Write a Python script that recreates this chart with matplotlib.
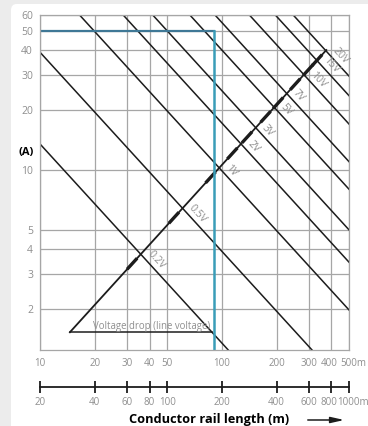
import numpy as np
import matplotlib
matplotlib.use("Agg")
import matplotlib.pyplot as plt
import matplotlib.transforms as mtransforms
from matplotlib.patches import FancyBboxPatch
from matplotlib.ticker import NullLocator

plt.rcParams["font.family"] = ["Open Sans", "DejaVu Sans"]

# voltage drop lines: current x length product (A*m)
drop_labels = ["0.2V", "0.5V", "1V", "2V", "3V", "5V", "7V", "10V", "15V", "20V"]
drop_amp_m = [135, 390, 990, 1720, 2500, 4000, 5500, 8500, 11800, 14800]

# construction line (lower / upper end) and the marked example point
guide_len = [14.6, 375]
guide_amp = [1.53, 40]
example_len = 90
example_amp = 50

len_ticks = [10, 20, 30, 40, 50, 100, 200, 300, 400, 500]
len_labels = ["10", "20", "30", "40", "50", "100", "200", "300", "400", "500m"]
rail_ticks = [20, 40, 60, 80, 100, 200, 400, 600, 800, 1000]
rail_labels = ["20", "40", "60", "80", "100", "200", "400", "600", "800", "1000m"]
amp_ticks = [2, 3, 4, 5, 10, 20, 30, 40, 50, 60]

grey = "#8f8f8f"
gridc = "#a6a6a6"
ink = "#1c1c1c"

fig = plt.figure(figsize=(3.68, 4.26), dpi=100, facecolor="#ececec")
card = FancyBboxPatch((11 / 368, -0.05), 1.02, 1.05 - 4 / 426,
                      boxstyle="round,pad=0,rounding_size=0.015",
                      transform=fig.transFigure, fc="white", ec="none", zorder=-5)
fig.patches.append(card)

ax = fig.add_axes([0.1087, 0.1791, 0.8397, 0.7857])
ax.set_xscale("log")
ax.set_yscale("log")
ax.set_xlim(10, 500)
ax.set_ylim(1.25, 60)
ax.patch.set_visible(False)

ax.set_xticks(len_ticks, len_labels)
ax.set_yticks(amp_ticks, [str(t) for t in amp_ticks])
ax.xaxis.set_minor_locator(NullLocator())
ax.yaxis.set_minor_locator(NullLocator())
ax.tick_params(length=0, labelsize=7.5, labelcolor=grey)
ax.tick_params(axis="x", pad=6, labelsize=7)
ax.tick_params(axis="y", pad=5)
ax.grid(True, color=gridc, lw=0.9)
for s in ax.spines.values():
    s.set_color(gridc)
    s.set_linewidth(0.9)

# voltage drop lines
for c in drop_amp_m:
    ax.plot([10, 500], [c / 10, c / 500], color=ink, lw=1.1)

# construction line with its marks and labels
ax.plot(guide_len, guide_amp, color=ink, lw=1.3)
lx0, ly0 = np.log10(guide_len[0]), np.log10(guide_amp[0])
q = (np.log10(guide_amp[1]) - ly0) / (np.log10(guide_len[1]) - lx0)

p1 = ax.transData.transform((10, 10))
p2 = ax.transData.transform((100, 1))
ang = np.degrees(np.arctan2(p2[1] - p1[1], p2[0] - p1[0]))
u = np.array([np.cos(np.radians(ang)), np.sin(np.radians(ang))])
n = np.array([-u[1], u[0]])
off = 3.0 * u + 1.2 * n

for c, lab in zip(drop_amp_m, drop_labels):
    xi = (np.log10(c) - ly0 + q * lx0) / (1 + q)
    xs = np.array([xi - 0.075, xi - 0.02])
    ys = ly0 + q * (xs - lx0)
    ax.plot(10 ** xs, 10 ** ys, color=ink, lw=2.4, solid_capstyle="butt")
    yi = ly0 + q * (xi - lx0)
    ax.annotate(lab, (10 ** xi, 10 ** yi), xytext=tuple(off),
                textcoords="offset points", ha="left", va="bottom",
                rotation=ang, rotation_mode="anchor", fontsize=7.5, color=grey)

# triangle base with its caption
base_end = drop_amp_m[0] / guide_amp[0]
ax.plot([guide_len[0], base_end], [guide_amp[0]] * 2, color=ink, lw=1.1)
ax.annotate("Voltage drop (line voltage)", (base_end, guide_amp[0]),
            xytext=(-1, 0.5), textcoords="offset points", ha="right", va="bottom",
            fontsize=6.9, color=grey)

# example reading
ax.plot([10, example_len], [example_amp] * 2, color="#3f7896", lw=1.6)
ax.plot([example_len] * 2, [example_amp, 1], color="#3a9db8", lw=1.8)

# second length scale (conductor rail)
ax2 = fig.add_axes([0.1087, 0.0915, 0.8397, 0.0001])
ax2.set_xscale("log")
ax2.set_xlim(20, 1000)
for s in ["top", "left", "right"]:
    ax2.spines[s].set_visible(False)
ax2.spines["bottom"].set_color(ink)
ax2.spines["bottom"].set_linewidth(1.3)
ax2.set_yticks([])
ax2.set_xticks(rail_ticks, rail_labels)
ax2.xaxis.set_minor_locator(NullLocator())
ax2.tick_params(axis="x", direction="inout", length=8, width=1.3, color=ink,
                labelcolor=grey, labelsize=7, pad=3)
ax2.patch.set_visible(False)

# nudge the two crowded labels at the right end apart
for a in (ax, ax2):
    labs = a.get_xticklabels()
    labs[-2].set_transform(labs[-2].get_transform() +
                           mtransforms.ScaledTranslation(-2.5 / 100, 0, fig.dpi_scale_trans))
    labs[-1].set_transform(labs[-1].get_transform() +
                           mtransforms.ScaledTranslation(4 / 100, 0, fig.dpi_scale_trans))

fig.text(0.0707, 0.643, "(A)", fontsize=8, fontweight="bold", ha="center", va="center")
fig.text(0.3505, 0.0141, "Conductor rail length (m)", fontsize=9.2,
         fontweight="bold", ha="left", va="center")
ax.annotate("", xy=(347 / 368, 0.0141), xytext=(305 / 368, 0.0141),
            xycoords="figure fraction",
            arrowprops=dict(arrowstyle="-|>,head_length=0.8,head_width=0.18",
                            color=ink, lw=1.1))

fig.savefig("out.png", dpi=100, facecolor=fig.get_facecolor())
